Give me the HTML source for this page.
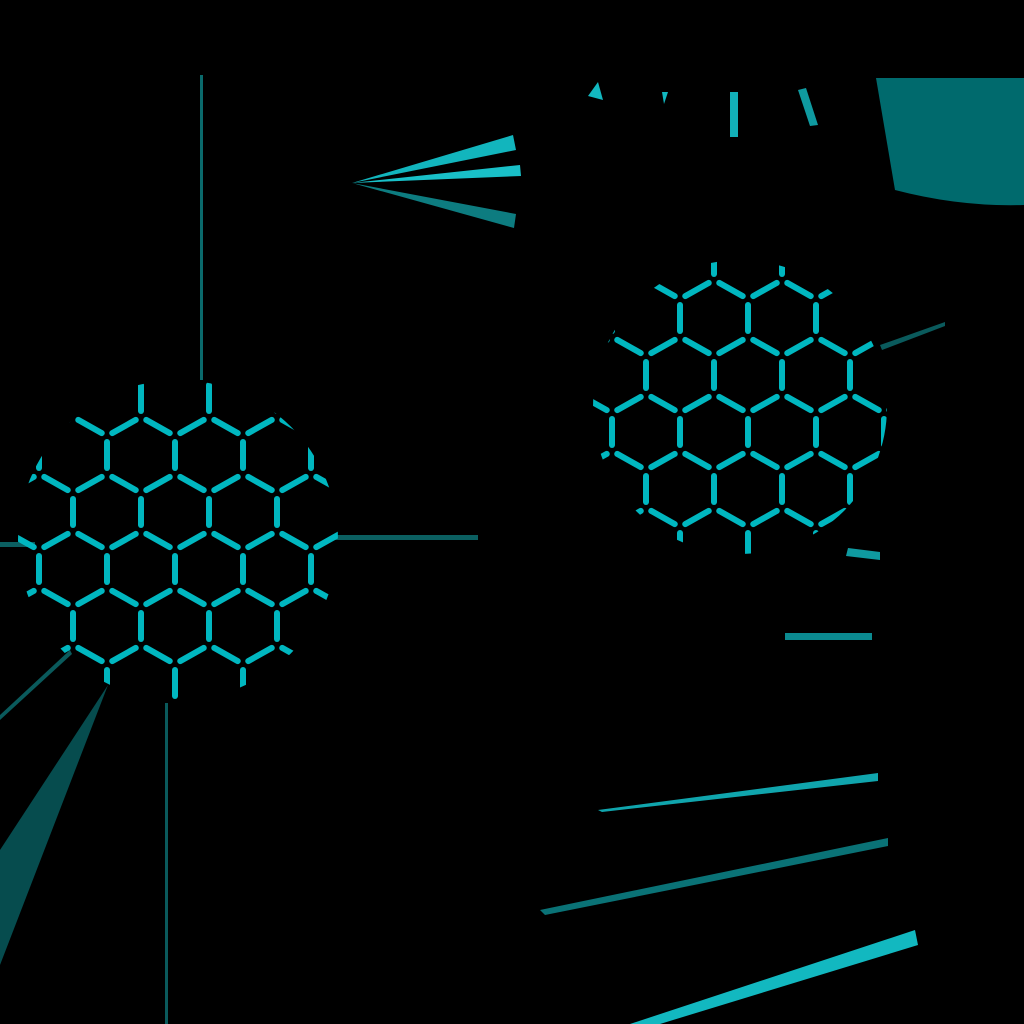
<!DOCTYPE html>
<html><head><meta charset="utf-8"><style>
html,body{margin:0;padding:0;background:#000;width:1024px;height:1024px;overflow:hidden}
svg{display:block}
</style></head><body>
<svg id="s" width="1024" height="1024" viewBox="0 0 1024 1024" xmlns="http://www.w3.org/2000/svg">
<defs>
<clipPath id="cl"><circle cx="178" cy="540" r="160"/></clipPath>
<clipPath id="cr"><circle cx="740" cy="407" r="147"/></clipPath>
</defs>
<rect width="1024" height="1024" fill="#000"/>
<path d="M876 78 L1024 78 L1024 205 Q960 207 895 190 Z" fill="#006a6d"/>
<polygon points="108,685 0,850 0,965" fill="#064c4e"/>
<polygon points="0,715 70,650 72,654 0,720" fill="#0a5a5c"/>
<g>
<polygon points="352,183 513,135 516,150" fill="#12b5bd"/>
<polygon points="352,183 520,165 521,176" fill="#19c0c8"/>
<polygon points="352,183 516,214 514,228" fill="#0d7c80"/>
</g>
<rect x="200" y="75" width="3" height="305" fill="#0a6a6c"/>
<rect x="335" y="535" width="143" height="5" fill="#0b5f61"/>
<rect x="0" y="542" width="35" height="5" fill="#0b5f61"/>
<rect x="165" y="703" width="3" height="321" fill="#0a5a5c"/>
<rect x="785" y="633" width="87" height="7" fill="#0b8a90"/>
<polygon points="598,810 878,773 878,781 602,812" fill="#10a5ad"/>
<polygon points="540,910 888,838 888,846 545,915" fill="#0a7276"/>
<polygon points="630,1024 915,930 918,945 660,1024" fill="#12b8c0"/>
<polygon points="588,96 598,82 603,100" fill="#12b8c0"/>
<polygon points="662,92 668,92 664,104" fill="#12b8c0"/>
<rect x="730" y="92" width="8" height="45" fill="#12b0b8"/>
<polygon points="798,90 806,88 818,125 810,126" fill="#0f9aa0"/>
<polygon points="880,345 945,322 945,326 882,350" fill="#0a5a5c"/>
<polygon points="848,548 880,552 880,560 846,556" fill="#0f9aa0"/>
<g id="hexL" clip-path="url(#cl)"></g>
<g id="hexR" clip-path="url(#cr)"></g>
</svg>
<script>
function hexGrid(gid, x0, y0){
  var g=document.getElementById(gid);
  var hw=34, a=38, dy=57, gap=6;
  var seen={};
  for(var r=-6;r<=6;r++){
    for(var c=-7;c<=7;c++){
      var hx=x0+c*2*hw+(Math.abs(r)%2?hw:0), hy=y0+r*dy;
      var pts=[[hx,hy-a],[hx+hw,hy-a/2],[hx+hw,hy+a/2],[hx,hy+a],[hx-hw,hy+a/2],[hx-hw,hy-a/2]];
      for(var k=0;k<6;k++){
        var p=pts[k],q=pts[(k+1)%6];
        var key=[Math.round(p[0]+q[0]),Math.round(p[1]+q[1])].join(',');
        if(seen[key]) continue; seen[key]=1;
        var dx=q[0]-p[0],dyy=q[1]-p[1],L=Math.hypot(dx,dyy),ux=dx/L,uy=dyy/L;
        var ln=document.createElementNS('http://www.w3.org/2000/svg','line');
        ln.setAttribute('x1',p[0]+ux*gap);ln.setAttribute('y1',p[1]+uy*gap);
        ln.setAttribute('x2',q[0]-ux*gap);ln.setAttribute('y2',q[1]-uy*gap);
        ln.setAttribute('stroke','#00b7c0');ln.setAttribute('stroke-width','6');ln.setAttribute('stroke-linecap','round');
        
        
        g.appendChild(ln);
      }
    }
  }
}
hexGrid('hexL',175,512);
hexGrid('hexR',748,375);
</script>
</body></html>
